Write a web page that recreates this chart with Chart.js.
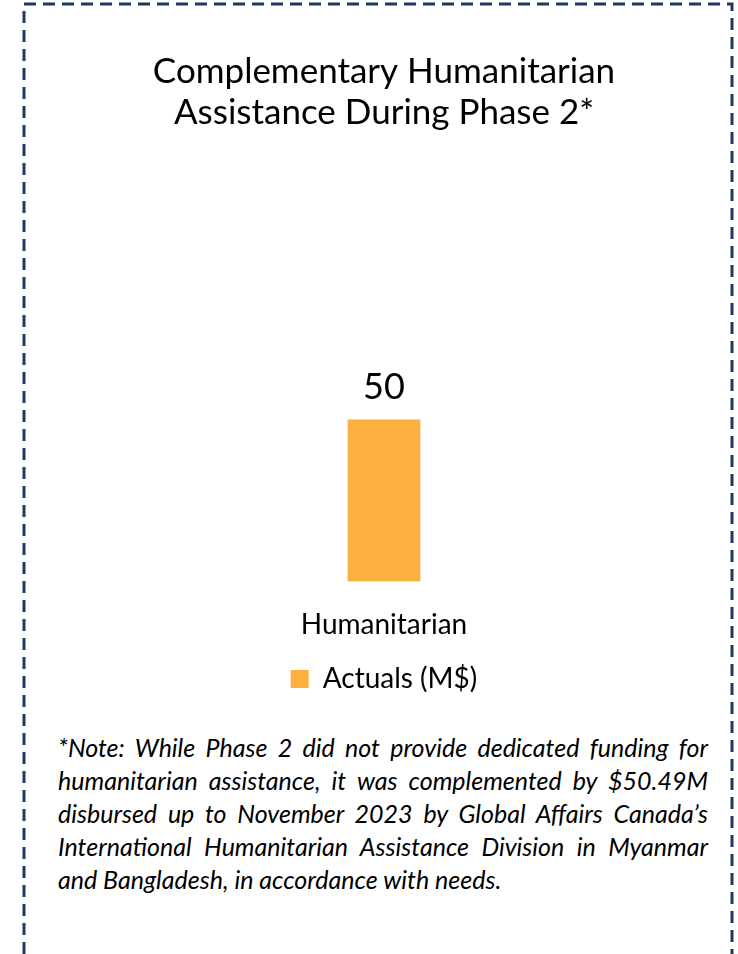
<!DOCTYPE html>
<html lang="en">
<head>
    <meta charset="UTF-8">
    <title>Complementary Humanitarian Assistance</title>
    <script src="https://cdn.jsdelivr.net/npm/chart.js@4.4.0/dist/chart.umd.min.js"></script>
    <style>
        * { margin: 0; padding: 0; box-sizing: border-box; }

        body {
            width: 738px;
            height: 954px;
            background: #ffffff;
            position: relative;
            overflow: hidden;
            font-family: Lato, 'Open Sans', sans-serif;
        }

        .frame {
            position: absolute;
            left: 0;
            top: 0;
        }

        .chart-box {
            position: absolute;
            left: 26px;
            top: 6px;
            width: 704px;
            height: 697px;
        }

        .note {
            position: absolute;
            left: 58px;
            top: 731px;
            width: 650px;
            font-size: 25px;
            font-style: italic;
            line-height: 33px;
            color: #000;
        }

        .note div {
            text-align: justify;
            text-align-last: justify;
            white-space: nowrap;
        }

        .note div.last {
            text-align-last: left;
        }
    </style>
</head>
<body>
    <!-- dashed frame, open at the bottom -->
    <svg class="frame" width="738" height="954">
        <path d="M24 954 L24 4 L732 4 L732 954" fill="none" stroke="#1F3864"
              stroke-width="3" stroke-dasharray="12 7"/>
    </svg>

    <div class="chart-box">
        <canvas id="humChart"></canvas>
    </div>

    <div class="note">
        <div>*Note: While Phase 2 did not provide dedicated funding for</div>
        <div>humanitarian assistance, it was complemented by $50.49M</div>
        <div>disbursed up to November 2023 by Global Affairs Canada’s</div>
        <div>International Humanitarian Assistance Division in Myanmar</div>
        <div class="last">and Bangladesh, in accordance with needs.</div>
    </div>

    <script>
        const categories = ['Humanitarian'];
        const actuals = [50];
        const seriesLabel = 'Actuals (M$)';
        const titleLines = ['Complementary Humanitarian', 'Assistance During Phase 2*'];
        const yMax = 100;

        // value labels above each bar
        const valueLabels = {
            id: 'valueLabels',
            afterDatasetsDraw(chart) {
                const ctx = chart.ctx;
                const meta = chart.getDatasetMeta(0);
                ctx.save();
                ctx.font = '36px Lato, sans-serif';
                ctx.fillStyle = '#000';
                ctx.textAlign = 'center';
                ctx.textBaseline = 'middle';
                meta.data.forEach((bar, i) => {
                    ctx.fillText(chart.data.datasets[0].data[i], bar.x, bar.y - 33);
                });
                ctx.restore();
            }
        };

        new Chart(document.getElementById('humChart'), {
            type: 'bar',
            data: {
                labels: categories,
                datasets: [{
                    label: seriesLabel,
                    data: actuals,
                    backgroundColor: '#FBB040',
                    barThickness: 72
                }]
            },
            options: {
                responsive: true,
                maintainAspectRatio: false,
                animation: false,
                layout: { padding: { left: 12, right: 0, top: 0, bottom: 0 } },
                plugins: {
                    title: {
                        display: true,
                        text: titleLines,
                        color: '#000',
                        font: { family: 'Lato', size: 35, weight: 'normal', lineHeight: 1.15 },
                        padding: { top: 46, bottom: 126 }
                    },
                    legend: {
                        position: 'bottom',
                        labels: {
                            color: '#000',
                            font: { family: 'Lato', size: 28 },
                            boxWidth: 18,
                            boxHeight: 18,
                            padding: 4
                        }
                    },
                    tooltip: { enabled: false }
                },
                scales: {
                    x: {
                        grid: { display: false },
                        border: { display: false },
                        ticks: {
                            color: '#000',
                            font: { family: 'Lato', size: 28 },
                            padding: 19
                        }
                    },
                    y: {
                        display: false,
                        min: 0,
                        max: yMax
                    }
                }
            },
            plugins: [valueLabels]
        });
    </script>
</body>
</html>
